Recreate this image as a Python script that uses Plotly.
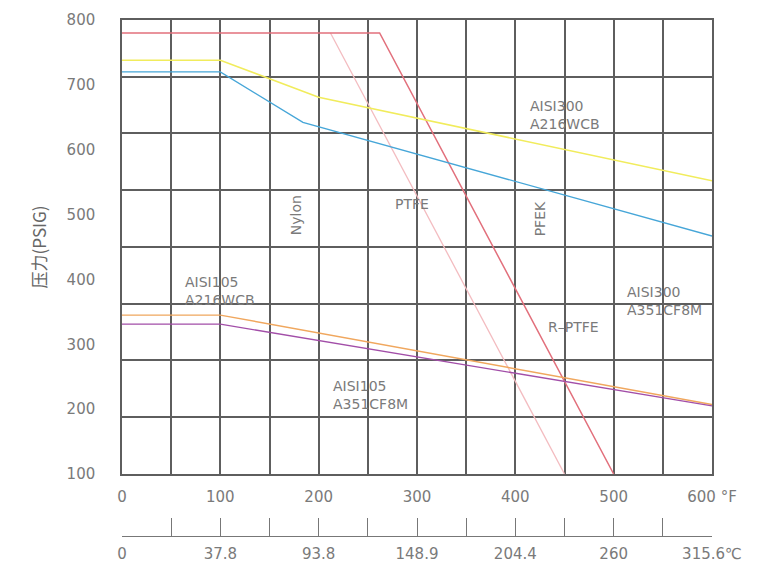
# 阀门压力-温度曲线 (Plotly 复刻)
import plotly.graph_objects as go

# 横轴: 温度 °F，刻度每 50 一格，标签每 100
temp_ticks = [0, 50, 100, 150, 200, 250, 300, 350, 400, 450, 500, 550, 600]
f_labels = ['0', '', '100', '', '200', '', '300', '', '400', '', '500', '', '600 °F']
c_labels = ['0', '', '37.8', '', '93.8', '', '148.9', '', '204.4', '', '260', '', '315.6℃']

# 纵轴: 压力 PSIG
psig_ticks = [100, 200, 300, 400, 500, 600, 700, 800]

# 各曲线 (温度 °F, 压力 PSIG)
r_ptfe_t = [0, 262, 500]
r_ptfe_p = [780, 780, 100]

ptfe_t = [212, 450]
ptfe_p = [780, 100]

aisi300_wcb_t = [0, 100, 200, 600]
aisi300_wcb_p = [738, 738, 681, 552]

aisi300_cf8m_t = [0, 100, 184, 600]
aisi300_cf8m_p = [720, 720, 642, 467]

aisi105_wcb_t = [0, 100, 600]
aisi105_wcb_p = [345, 345, 207]

aisi105_cf8m_t = [0, 100, 600]
aisi105_cf8m_p = [331, 331, 205]

FONT = 'DejaVu Sans, Verdana, sans-serif'
GRID = '#5e5e5e'
TXT = '#7a7a7a'

fig = go.Figure()

# 用于画 8 等分水平网格线的辅助轴
fig.add_trace(go.Scatter(x=[], y=[], xaxis='x', yaxis='y2', showlegend=False, hoverinfo='skip'))

series = [
    (ptfe_t, ptfe_p, '#f3bcc0', 1.3),
    (r_ptfe_t, r_ptfe_p, '#e2707c', 1.5),
    (aisi300_wcb_t, aisi300_wcb_p, '#f1ec5c', 1.5),
    (aisi300_cf8m_t, aisi300_cf8m_p, '#46a6d8', 1.4),
    (aisi105_wcb_t, aisi105_wcb_p, '#f0a75e', 1.4),
    (aisi105_cf8m_t, aisi105_cf8m_p, '#a24ea8', 1.3),
]
for t, p, c, w in series:
    fig.add_trace(go.Scatter(x=t, y=p, mode='lines', line=dict(color=c, width=w),
                             showlegend=False, xaxis='x', yaxis='y'))

# 摄氏度刻度轴用的空 trace
fig.add_trace(go.Scatter(x=[], y=[], xaxis='x2', yaxis='y3', showlegend=False, hoverinfo='skip'))

# 图中文字标注
labels = [
    ('AISI300<br>A216WCB', 413, 654, 0),
    ('Nylon', 177, 499, -90),
    ('PTFE', 276, 516, 0),
    ('PFEK', 426, 494, -90),
    ('AISI105<br>A216WCB', 62, 382, 0),
    ('AISI300<br>A351CF8M', 512, 367, 0),
    ('R–PTFE', 431, 327, 0),
    ('AISI105<br>A351CF8M', 213, 222, 0),
]
for text, x, y, ang in labels:
    fig.add_annotation(x=x, y=y, xref='x', yref='y', text=text, showarrow=False,
                       textangle=ang, xanchor='center' if ang else 'left', yanchor='middle',
                       align='left', font=dict(family=FONT, size=14, color=TXT))

# 页面 body 自带 8px 边距，故宽高和边距各减去 8
fig.update_layout(
    width=751, height=554,
    margin=dict(l=114, r=47, t=12, b=26),
    paper_bgcolor='white', plot_bgcolor='white',
    font=dict(family=FONT, color=TXT),
    xaxis=dict(range=[0, 600], domain=[0, 1], anchor='y',
               tickmode='array', tickvals=temp_ticks, ticktext=f_labels,
               showgrid=True, gridcolor=GRID, gridwidth=1.5,
               showline=True, linecolor=GRID, linewidth=1.5, mirror=True,
               ticks='', ticklabelstandoff=8, zeroline=False,
               tickfont=dict(family=FONT, size=15, color=TXT), automargin=False),
    yaxis=dict(range=[100, 800], domain=[0.1202, 1], anchor='x',
               tickmode='array', tickvals=psig_ticks,
               showgrid=False, showline=True, linecolor=GRID, linewidth=1.5, mirror=True,
               ticks='', ticklabelstandoff=22, zeroline=False,
               tickfont=dict(family=FONT, size=15, color=TXT),
               title=dict(text='压力(PSIG)', standoff=16,
                          font=dict(family='Noto Sans CJK SC, ' + FONT, size=17, color='#666')),
               automargin=False),
    yaxis2=dict(range=[0, 8], dtick=1, overlaying='y', anchor='x', side='left',
                showticklabels=False, showgrid=True, gridcolor=GRID, gridwidth=1.5,
                zeroline=False, ticks=''),
    xaxis2=dict(range=[0, 600], domain=[0, 1], anchor='y3',
                tickmode='array', tickvals=temp_ticks, ticktext=c_labels,
                showgrid=False, showline=True, linecolor='#777', linewidth=1.3,
                ticks='inside', ticklen=18, tickwidth=1.3, tickcolor='#777',
                ticklabelstandoff=4, zeroline=False,
                tickfont=dict(family=FONT, size=15, color=TXT), automargin=False),
    yaxis3=dict(domain=[0, 0.04], anchor='x2', visible=False, range=[0, 1]),
)

fig.write_html("out.html")
